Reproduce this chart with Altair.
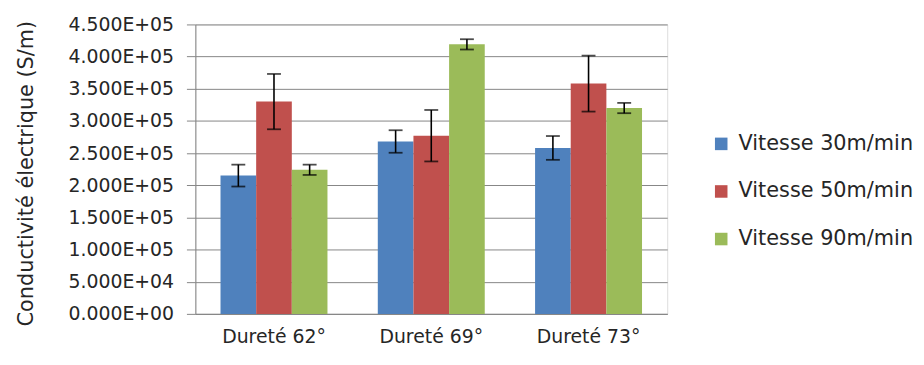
import altair as alt
import pandas as pd

categories = ["Dureté 62°", "Dureté 69°", "Dureté 73°"]
series = ["Vitesse 30m/min", "Vitesse 50m/min", "Vitesse 90m/min"]
v30 = [2.15e5, 2.68e5, 2.58e5]
v50 = [3.30e5, 2.77e5, 3.58e5]
v90 = [2.24e5, 4.19e5, 3.20e5]
e30 = [1.7e4, 1.75e4, 1.85e4]
e50 = [4.3e4, 4.0e4, 4.35e4]
e90 = [8.0e3, 8.0e3, 8.0e3]
colors = ["#4F81BD", "#C0504D", "#9BBB59"]
y_ticks = [0, 5e4, 1e5, 1.5e5, 2e5, 2.5e5, 3e5, 3.5e5, 4e5, 4.5e5]

rows = []
for vals, errs, s in [(v30, e30, series[0]), (v50, e50, series[1]), (v90, e90, series[2])]:
    for c, v, e in zip(categories, vals, errs):
        rows.append({"cat": c, "speed": s, "val": v, "lo": v - e, "hi": v + e})
df = pd.DataFrame(rows)

FONT = "DejaVu Sans"
TXT = "#262626"
TITLE = "Conductivité électrique (S/m)"

x_axis = alt.Axis(labelAngle=0, labelFont=FONT, labelFontSize=19,
                  labelColor=TXT, ticks=False, labelPadding=14,
                  domainColor="#868686", domainWidth=1)
x_scale = alt.Scale(paddingInner=0.32, paddingOuter=0.16)
xo_scale = alt.Scale(paddingInner=0, paddingOuter=0)

label_expr = ("datum.value == 0 ? '0.000E+00' : "
              "format(datum.value / pow(10, floor(log(datum.value) / LN10 + 1e-9)), '.3f') + 'E+' + "
              "(floor(log(datum.value) / LN10 + 1e-9) < 10 ? '0' : '') + "
              "floor(log(datum.value) / LN10 + 1e-9)")

y_axis = alt.Axis(values=y_ticks, labelExpr=label_expr, labelOverlap=False,
                  labelFont=FONT, labelFontSize=19, labelColor=TXT,
                  labelPadding=13, tickSize=9, tickColor="#868686",
                  domainColor="#868686", gridColor="#868686", gridWidth=1,
                  titleFont=FONT, titleFontSize=21, titleFontWeight="normal",
                  titleColor=TXT, titleX=-170, titleY=150,
                  titleAngle=-90, titleAlign="center", titleBaseline="middle")
y_scale = alt.Scale(domain=[0, 4.5e5], nice=False)


def xenc():
    return alt.X("cat:N", sort=categories, title=None, scale=x_scale, axis=x_axis)


def xoenc():
    return alt.XOffset("speed:N", sort=series, scale=xo_scale)


def yenc(field):
    return alt.Y(field, title=TITLE, scale=y_scale, axis=y_axis)


bars = alt.Chart(df).mark_bar().encode(
    x=xenc(), xOffset=xoenc(), y=yenc("val:Q"),
    color=alt.Color("speed:N", sort=series, title=None,
                    scale=alt.Scale(domain=series, range=colors),
                    legend=alt.Legend(orient="none", legendX=520, legendY=110,
                                      symbolType="square", symbolSize=160,
                                      symbolStrokeWidth=0, labelFont=FONT,
                                      labelFontSize=21, labelColor=TXT,
                                      labelLimit=400,
                                      rowPadding=26, labelOffset=7)),
)

rules = alt.Chart(df).mark_rule(color="black", strokeWidth=1.6).encode(
    x=xenc(), xOffset=xoenc(), y=yenc("lo:Q"), y2="hi:Q",
)
caps_lo = alt.Chart(df).mark_tick(color="black", thickness=1.8, size=14).encode(
    x=xenc(), xOffset=xoenc(), y=yenc("lo:Q"),
)
caps_hi = alt.Chart(df).mark_tick(color="black", thickness=1.8, size=14).encode(
    x=xenc(), xOffset=xoenc(), y=yenc("hi:Q"),
)

chart = alt.layer(bars, rules, caps_lo, caps_hi).properties(
    width=476, height=292,
    autosize=alt.AutoSizeParams(type="none"),
    padding={"left": 189, "top": 15, "right": 251, "bottom": 50},
).configure_view(stroke=None).configure(background="white")

chart.save("out.html", embed_options={"renderer": "svg", "actions": False})
